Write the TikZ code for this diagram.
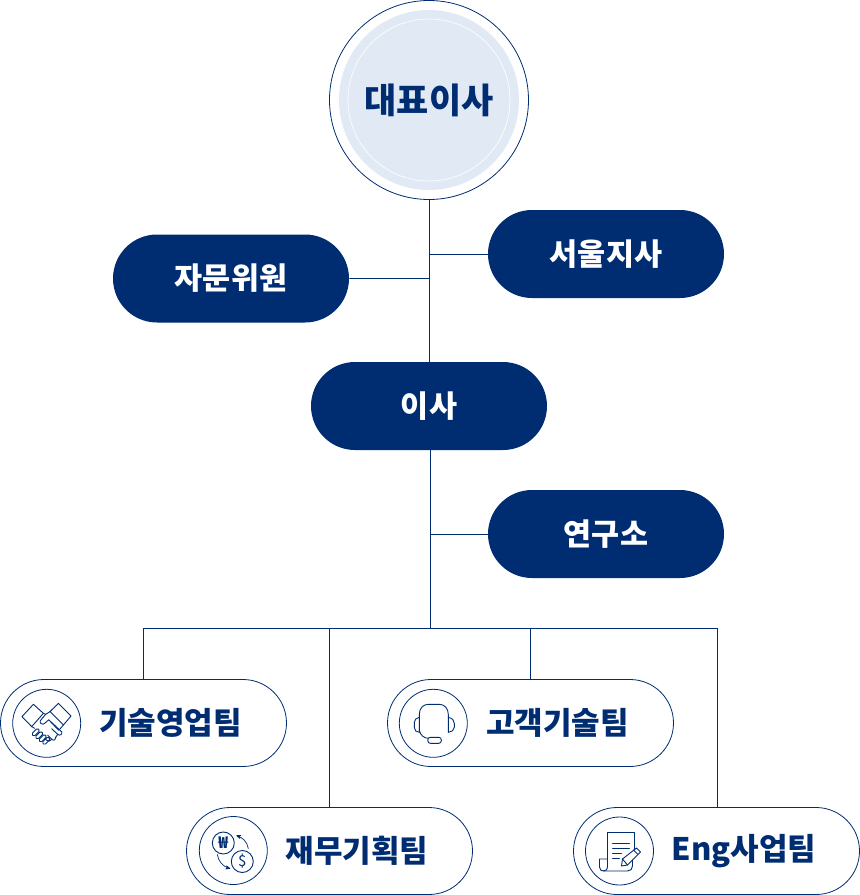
\documentclass[tikz,border=0pt]{standalone}
\usepackage{fontspec}
\setmainfont{Noto Sans CJK KR}
\usetikzlibrary{arrows}
\usetikzlibrary{shapes.misc}
\definecolor{navy}{HTML}{002D72}
\definecolor{paleblue}{HTML}{E1EAF4}
\begin{document}
\begin{tikzpicture}[x=1pt,y=-1pt,>=stealth',line width=0.8pt,draw=navy,
    ceo node/.style={circle,draw=navy,fill=white,inner sep=0pt,minimum size=199pt},
    dark node/.style={rounded rectangle,fill=navy,text=white,inner sep=0pt,minimum width=236pt,minimum height=88pt,font=\fontsize{30.5}{30.5}\selectfont\bfseries},
    team node/.style={rounded rectangle,draw=navy,fill=white,inner sep=0pt,minimum width=286pt,minimum height=87pt},
    icon node/.style={circle,draw=navy,inner sep=0pt,minimum size=68pt},
    team text/.style={text=navy,inner sep=0pt,font=\fontsize{31}{31}\selectfont\bfseries},
    icon line/.style={draw=navy,line width=0.9pt,line join=round,line cap=round}]
  \useasboundingbox (0,0) rectangle (860,895);
  \node[ceo node] (ceo) at (429,100) {};
  \node[dark node] (advisor) at (231,278.5) {자문위원};
  \node[dark node] (seoul) at (606,254) {서울지사};
  \node[dark node] (boss) at (429,406) {이사};
  \node[dark node] (lab) at (606,534) {연구소};
  \node[team node] (sales) at (143.5,723) {};
  \node[team node] (support) at (530.5,723) {};
  \node[team node] (finance) at (329.5,851) {};
  \node[team node] (eng) at (716.5,851) {};
  % center of the big circle
  \fill[paleblue] (ceo.center) circle (90);
  \draw[white,line width=0.6pt] (ceo.center) circle (81);
  \node[text=navy,inner sep=0pt,font=\fontsize{35}{35}\selectfont\bfseries] (ceotxt) at (429,100) {대표이사};
  \node[icon node] (iconsales) at (46.7,723.3) {};
  \node[icon node] (iconsupport) at (433.3,723.3) {};
  \node[icon node] (iconfinance) at (233.3,850.5) {};
  \node[icon node] (iconeng) at (619.5,851) {};
  \node[team text] (salestxt) at (170.5,723) {기술영업팀};
  \node[team text] (supporttxt) at (557.5,723) {고객기술팀};
  \node[team text] (financetxt) at (357,851) {재무기획팀};
  \node[team text] (engtxt) at (744,851) {Eng사업팀};
  \coordinate (advj) at (429,278.5);
  \coordinate (seoulj) at (429,254);
  \coordinate (bossj) at (430.5,450);
  \coordinate (labj) at (430.5,534);
  \coordinate (busj) at (430.5,628);
  \coordinate (busa) at (143.5,628);
  \coordinate (busb) at (329.5,628);
  \coordinate (busc) at (530.5,628);
  \coordinate (busd) at (717.5,628);
  \coordinate (engj) at (717.5,807.5);
  \path[-,draw=navy] (ceo) edge (boss);
  \path[-,draw=navy] (advisor) edge (advj);
  \path[-,draw=navy] (seoul) edge (seoulj);
  \path[-,draw=navy] (bossj) edge (busj);
  \path[-,draw=navy] (lab) edge (labj);
  \path[-,draw=navy] (busa) edge (busd);
  \path[-,draw=navy] (busa) edge (sales);
  \path[-,draw=navy] (busb) edge (finance);
  \path[-,draw=navy] (busc) edge (support);
  \path[-,draw=navy] (busd) edge (engj);
  % handshake
  \begin{scope}[shift={(iconsales.center)},icon line]
    \draw (-3.3,-10) -- (-13.3,-19) -- (-24.7,-6.7) -- (-15,3.3) -- cycle;
    \draw (3.3,-11.7) -- (11.7,-20) -- (24.3,-7.3) -- (16.7,1.7) -- cycle;
    \draw (3.3,-11.7) -- (-1,-9) -- (-6.5,-2.5) .. controls (-7.5,0) and (-4,2) .. (-2,0) -- (2,-3.5) -- (15,8.5) .. controls (16,11) and (13,13) .. (11,11);
    \draw (-3.3,-10) -- (-1,-9);
    \draw (-15,3.3) -- (-12,5);
    \draw (16.7,1.7) -- (13,6);
    \draw (4,-1.5) -- (12,7) (11,11) -- (5,5.5) (9,14) .. controls (10,16) and (7,18) .. (5,16) -- (1,12);
    \draw (9,14) -- (11,11) (5,16) .. controls (4,18) and (2,18) .. (0,17) -- (-2,15);
    \foreach \bx/\by in {-11/9,-7.5/12,-4/15,-0.5/17.5}
      \draw[rounded corners=1.5pt,rotate around={45:(\bx,\by)}] ({\bx-4.2},{\by-1.8}) rectangle ({\bx+4.2},{\by+1.8});
  \end{scope}
  % money
  \begin{scope}[shift={(iconfinance.center)},icon line]
    \node[circle,draw=navy,line width=0.9pt,inner sep=0pt,minimum size=22pt,font=\fontsize{16}{16}\selectfont\bfseries,text=navy] (won) at (-10,-7.5) {₩};
    \node[circle,draw=navy,line width=0.9pt,inner sep=0pt,minimum size=22pt,font=\fontsize{15}{15}\selectfont,text=navy] (dollar) at (9,11) {\$};
    \draw[->,line width=0.7pt] (15,-2) .. controls (14,-9) and (9,-13) .. (3,-15);
    \draw[->,line width=0.7pt] (-16,4) .. controls (-15,10) and (-11,16) .. (-3,18);
  \end{scope}
  % headset
  \begin{scope}[shift={(iconsupport.center)},icon line]
    \draw (-14,9) -- (-14,-9) .. controls (-14,-15) and (-10,-19) .. (-5,-19) -- (6,-19) .. controls (11,-19) and (15,-15) .. (15,-9) -- (15,9);
    \draw (-14,-6) .. controls (-17,-5) and (-19,-4) .. (-19,-1) -- (-19,4) .. controls (-19,7) and (-17,9) .. (-14,9);
    \draw (15,-6) .. controls (19,-5) and (21,-3) .. (21,0) -- (21,4) .. controls (21,7) and (18,9) .. (15,9);
    \draw (-14,7) .. controls (-13,12) and (-9,15) .. (-5,15);
    \draw[rounded corners=2.5pt] (-5.5,14) rectangle (8,20);
  \end{scope}
  % document
  \begin{scope}[shift={(iconeng.center)},icon line]
    \draw (-12,15) -- (-12,-19) -- (15,-19) -- (15,-1);
    \draw (-12,15) .. controls (-12,19) and (-14,20) .. (-16,20) .. controls (-18,20) and (-20,19) .. (-20,16) -- (-20,8) -- (-12,8);
    \draw (-16,20) -- (8,20) .. controls (11,20) and (13,18) .. (13,15) -- (13,9);
    \draw (-7,-8) -- (10,-8) (-7,-3) -- (10,-3) (-7,2) -- (2,2) (-7,7) -- (0,7);
    \draw (2,15) -- (3,8) -- (17,-3) -- (21,1) -- (8,14) -- cycle;
    \draw (3,8) -- (8,14) (14,-1) -- (18,3);
  \end{scope}
\end{tikzpicture}
\end{document}
